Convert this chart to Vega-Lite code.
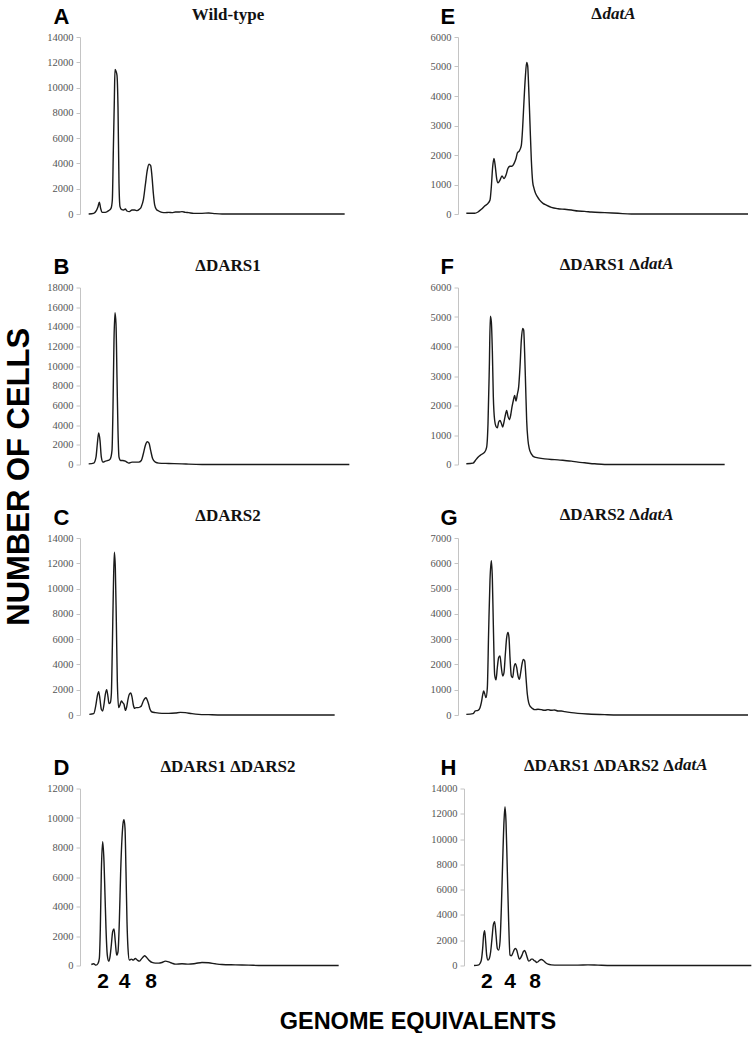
{
  "$schema": "https://vega.github.io/schema/vega-lite/v6.json",
  "padding": {"left": 3, "top": 4, "right": 0, "bottom": 0},
  "background": "white",
  "config": {
    "view": {"stroke": null},
    "concat": {"spacing": 20},
    "title": {"font": "Liberation Serif", "fontSize": 17, "fontWeight": "bold", "color": "#111111", "offset": -19},
    "axis": {"grid": false, "domainColor": "#c4c4c4", "tickColor": "#c4c4c4", "tickSize": 4, "labelFont": "Liberation Serif", "labelFontSize": 10.5, "labelColor": "#555555", "labelPadding": 3},
    "axisY": {"format": "d", "titleAngle": 0, "titleAlign": "left", "titleBaseline": "alphabetic", "titleFont": "Liberation Sans", "titleFontSize": 22, "titleFontWeight": "bold", "titleColor": "#000000"},
    "axisX": {"ticks": false, "domain": false, "labelFont": "Liberation Sans", "labelFontSize": 21, "labelFontWeight": "bold", "labelColor": "#000000", "labelPadding": 5, "titleFont": "Liberation Serif", "titleFontStyle": "italic", "titleFontWeight": "bold", "titleFontSize": 17, "titleColor": "#111111", "titleAlign": "left", "titleBaseline": "alphabetic"},
    "line": {"color": "#1a1a1a", "strokeWidth": 1.4, "interpolate": "monotone"}
  },
  "datasets": {
    "A": [{"ch":26,"n":0},{"ch":41,"n":53},{"ch":49,"n":264},{"ch":54,"n":581},{"ch":58,"n":925},{"ch":62,"n":449},{"ch":66,"n":132},{"ch":76,"n":132},{"ch":86,"n":264},{"ch":93,"n":449},{"ch":97,"n":1110},{"ch":100,"n":5020},{"ch":103,"n":8983},{"ch":105,"n":11440},{"ch":108,"n":11300},{"ch":111,"n":10970},{"ch":114,"n":8460},{"ch":117,"n":2430},{"ch":120,"n":581},{"ch":124,"n":370},{"ch":131,"n":317},{"ch":136,"n":396},{"ch":141,"n":238},{"ch":148,"n":185},{"ch":156,"n":317},{"ch":164,"n":317},{"ch":171,"n":264},{"ch":178,"n":370},{"ch":184,"n":581},{"ch":190,"n":1110},{"ch":196,"n":2300},{"ch":202,"n":3490},{"ch":207,"n":3940},{"ch":212,"n":3830},{"ch":216,"n":2960},{"ch":220,"n":1640},{"ch":224,"n":713},{"ch":229,"n":370},{"ch":236,"n":238},{"ch":246,"n":132},{"ch":256,"n":106},{"ch":266,"n":132},{"ch":276,"n":106},{"ch":286,"n":159},{"ch":296,"n":159},{"ch":306,"n":185},{"ch":316,"n":132},{"ch":326,"n":106},{"ch":341,"n":53},{"ch":366,"n":53},{"ch":386,"n":79},{"ch":406,"n":26},{"ch":426,"n":0},{"ch":466,"n":0},{"ch":566,"n":0},{"ch":666,"n":0},{"ch":794,"n":0}],
    "B": [{"ch":26,"n":68},{"ch":41,"n":136},{"ch":48,"n":749},{"ch":52,"n":2110},{"ch":56,"n":3200},{"ch":60,"n":2450},{"ch":64,"n":749},{"ch":69,"n":238},{"ch":76,"n":340},{"ch":84,"n":408},{"ch":91,"n":578},{"ch":96,"n":1430},{"ch":99,"n":5850},{"ch":102,"n":12660},{"ch":105,"n":15450},{"ch":108,"n":14290},{"ch":111,"n":8850},{"ch":114,"n":3400},{"ch":117,"n":749},{"ch":122,"n":408},{"ch":128,"n":408},{"ch":136,"n":340},{"ch":141,"n":238},{"ch":146,"n":136},{"ch":156,"n":238},{"ch":166,"n":238},{"ch":176,"n":238},{"ch":184,"n":408},{"ch":190,"n":1090},{"ch":196,"n":1940},{"ch":202,"n":2310},{"ch":207,"n":2180},{"ch":212,"n":1430},{"ch":218,"n":578},{"ch":226,"n":238},{"ch":236,"n":136},{"ch":266,"n":102},{"ch":306,"n":68},{"ch":326,"n":34},{"ch":366,"n":0},{"ch":808,"n":0}],
    "C": [{"ch":28,"n":53},{"ch":41,"n":106},{"ch":48,"n":845},{"ch":52,"n":1510},{"ch":56,"n":1850},{"ch":60,"n":1240},{"ch":64,"n":449},{"ch":68,"n":317},{"ch":72,"n":845},{"ch":76,"n":1640},{"ch":80,"n":2010},{"ch":84,"n":1430},{"ch":87,"n":898},{"ch":91,"n":977},{"ch":94,"n":1640},{"ch":97,"n":5340},{"ch":100,"n":9830},{"ch":103,"n":12870},{"ch":106,"n":11620},{"ch":109,"n":7400},{"ch":112,"n":2640},{"ch":116,"n":581},{"ch":120,"n":793},{"ch":124,"n":1110},{"ch":128,"n":977},{"ch":132,"n":845},{"ch":136,"n":370},{"ch":140,"n":634},{"ch":144,"n":1240},{"ch":148,"n":1640},{"ch":152,"n":1740},{"ch":156,"n":1430},{"ch":160,"n":793},{"ch":164,"n":528},{"ch":168,"n":581},{"ch":174,"n":581},{"ch":180,"n":634},{"ch":184,"n":713},{"ch":190,"n":1110},{"ch":194,"n":1290},{"ch":198,"n":1370},{"ch":202,"n":1160},{"ch":206,"n":845},{"ch":210,"n":449},{"ch":216,"n":238},{"ch":226,"n":185},{"ch":246,"n":132},{"ch":266,"n":132},{"ch":286,"n":159},{"ch":301,"n":211},{"ch":316,"n":185},{"ch":336,"n":106},{"ch":356,"n":53},{"ch":386,"n":26},{"ch":426,"n":0},{"ch":764,"n":0}],
    "D": [{"ch":34,"n":68},{"ch":41,"n":114},{"ch":48,"n":23},{"ch":54,"n":136},{"ch":58,"n":477},{"ch":61,"n":2520},{"ch":64,"n":6360},{"ch":68,"n":8390},{"ch":72,"n":7050},{"ch":75,"n":4770},{"ch":78,"n":2500},{"ch":82,"n":682},{"ch":86,"n":295},{"ch":90,"n":591},{"ch":94,"n":1390},{"ch":98,"n":2300},{"ch":102,"n":2480},{"ch":106,"n":1590},{"ch":110,"n":705},{"ch":114,"n":932},{"ch":118,"n":2960},{"ch":122,"n":6360},{"ch":126,"n":8640},{"ch":130,"n":9770},{"ch":132,"n":9890},{"ch":135,"n":9320},{"ch":138,"n":6360},{"ch":141,"n":2960},{"ch":144,"n":1160},{"ch":148,"n":364},{"ch":154,"n":432},{"ch":160,"n":364},{"ch":166,"n":477},{"ch":172,"n":364},{"ch":178,"n":295},{"ch":184,"n":432},{"ch":190,"n":591},{"ch":194,"n":660},{"ch":198,"n":591},{"ch":204,"n":432},{"ch":210,"n":295},{"ch":216,"n":205},{"ch":226,"n":159},{"ch":236,"n":159},{"ch":246,"n":205},{"ch":256,"n":295},{"ch":266,"n":250},{"ch":276,"n":159},{"ch":286,"n":91},{"ch":306,"n":114},{"ch":326,"n":91},{"ch":346,"n":136},{"ch":366,"n":205},{"ch":386,"n":182},{"ch":406,"n":114},{"ch":426,"n":68},{"ch":466,"n":45},{"ch":506,"n":23},{"ch":546,"n":0},{"ch":776,"n":0}],
    "E": [{"ch":25,"n":23},{"ch":50,"n":23},{"ch":60,"n":68},{"ch":70,"n":158},{"ch":80,"n":271},{"ch":90,"n":361},{"ch":96,"n":474},{"ch":100,"n":925},{"ch":104,"n":1600},{"ch":108,"n":1884},{"ch":112,"n":1600},{"ch":116,"n":1200},{"ch":120,"n":1060},{"ch":126,"n":1150},{"ch":132,"n":1290},{"ch":138,"n":1200},{"ch":144,"n":1320},{"ch":150,"n":1550},{"ch":156,"n":1620},{"ch":162,"n":1620},{"ch":168,"n":1710},{"ch":174,"n":1880},{"ch":178,"n":2070},{"ch":184,"n":2140},{"ch":190,"n":2330},{"ch":194,"n":2940},{"ch":198,"n":3840},{"ch":202,"n":4630},{"ch":206,"n":5140},{"ch":209,"n":5030},{"ch":212,"n":4300},{"ch":216,"n":3050},{"ch":220,"n":1830},{"ch":224,"n":1090},{"ch":228,"n":870},{"ch":232,"n":720},{"ch":238,"n":590},{"ch":245,"n":470},{"ch":255,"n":360},{"ch":265,"n":300},{"ch":280,"n":225},{"ch":300,"n":180},{"ch":320,"n":160},{"ch":340,"n":135},{"ch":360,"n":100},{"ch":380,"n":90},{"ch":400,"n":68},{"ch":440,"n":45},{"ch":480,"n":23},{"ch":520,"n":0},{"ch":870,"n":0}],
    "F": [{"ch":25,"n":23},{"ch":45,"n":45},{"ch":52,"n":136},{"ch":60,"n":249},{"ch":70,"n":340},{"ch":80,"n":419},{"ch":86,"n":589},{"ch":90,"n":1380},{"ch":94,"n":3310},{"ch":97,"n":5030},{"ch":100,"n":4840},{"ch":103,"n":3870},{"ch":106,"n":2290},{"ch":110,"n":1490},{"ch":114,"n":1290},{"ch":118,"n":1245},{"ch":122,"n":1440},{"ch":126,"n":1490},{"ch":130,"n":1400},{"ch":134,"n":1270},{"ch":138,"n":1440},{"ch":142,"n":1670},{"ch":146,"n":1830},{"ch":150,"n":1630},{"ch":154,"n":1520},{"ch":158,"n":1670},{"ch":162,"n":1950},{"ch":166,"n":2170},{"ch":170,"n":2340},{"ch":174,"n":2150},{"ch":178,"n":2380},{"ch":182,"n":2630},{"ch":186,"n":3310},{"ch":190,"n":4210},{"ch":194,"n":4610},{"ch":197,"n":4560},{"ch":200,"n":3760},{"ch":203,"n":2630},{"ch":206,"n":1490},{"ch":210,"n":815},{"ch":214,"n":532},{"ch":220,"n":362},{"ch":230,"n":249},{"ch":240,"n":226},{"ch":260,"n":192},{"ch":280,"n":170},{"ch":300,"n":158},{"ch":320,"n":136},{"ch":340,"n":113},{"ch":360,"n":79},{"ch":380,"n":57},{"ch":410,"n":23},{"ch":440,"n":0},{"ch":800,"n":0}],
    "G": [{"ch":25,"n":26},{"ch":45,"n":53},{"ch":52,"n":159},{"ch":60,"n":185},{"ch":66,"n":291},{"ch":70,"n":488},{"ch":74,"n":793},{"ch":77,"n":951},{"ch":80,"n":845},{"ch":84,"n":687},{"ch":88,"n":1080},{"ch":92,"n":3350},{"ch":96,"n":5340},{"ch":100,"n":6100},{"ch":103,"n":5420},{"ch":106,"n":3570},{"ch":110,"n":1590},{"ch":114,"n":1390},{"ch":118,"n":1880},{"ch":122,"n":2270},{"ch":126,"n":2340},{"ch":130,"n":1880},{"ch":134,"n":1545},{"ch":138,"n":1680},{"ch":142,"n":2400},{"ch":146,"n":3060},{"ch":150,"n":3260},{"ch":153,"n":3060},{"ch":156,"n":2270},{"ch":160,"n":1545},{"ch":164,"n":1480},{"ch":168,"n":1880},{"ch":172,"n":2030},{"ch":176,"n":1880},{"ch":180,"n":1545},{"ch":184,"n":1410},{"ch":188,"n":1680},{"ch":192,"n":2010},{"ch":196,"n":2200},{"ch":200,"n":2140},{"ch":204,"n":1480},{"ch":208,"n":819},{"ch":212,"n":489},{"ch":218,"n":317},{"ch":224,"n":251},{"ch":230,"n":211},{"ch":240,"n":225},{"ch":250,"n":211},{"ch":260,"n":185},{"ch":270,"n":211},{"ch":280,"n":185},{"ch":290,"n":198},{"ch":300,"n":159},{"ch":310,"n":159},{"ch":320,"n":132},{"ch":340,"n":92},{"ch":360,"n":66},{"ch":390,"n":40},{"ch":440,"n":13},{"ch":480,"n":0},{"ch":870,"n":0}],
    "H": [{"ch":30,"n":0},{"ch":42,"n":27},{"ch":48,"n":159},{"ch":52,"n":424},{"ch":56,"n":1350},{"ch":59,"n":2430},{"ch":62,"n":2760},{"ch":65,"n":1880},{"ch":68,"n":822},{"ch":72,"n":424},{"ch":76,"n":557},{"ch":80,"n":1090},{"ch":84,"n":2150},{"ch":88,"n":3210},{"ch":92,"n":3470},{"ch":96,"n":2430},{"ch":100,"n":1350},{"ch":104,"n":1220},{"ch":108,"n":1880},{"ch":112,"n":4510},{"ch":116,"n":8220},{"ch":120,"n":11400},{"ch":123,"n":12570},{"ch":126,"n":11400},{"ch":130,"n":7430},{"ch":134,"n":3450},{"ch":138,"n":822},{"ch":142,"n":770},{"ch":146,"n":955},{"ch":150,"n":1220},{"ch":154,"n":1350},{"ch":158,"n":1220},{"ch":162,"n":822},{"ch":166,"n":504},{"ch":170,"n":610},{"ch":174,"n":822},{"ch":178,"n":1090},{"ch":182,"n":1190},{"ch":186,"n":955},{"ch":190,"n":610},{"ch":194,"n":345},{"ch":198,"n":398},{"ch":202,"n":504},{"ch":206,"n":504},{"ch":210,"n":398},{"ch":214,"n":345},{"ch":218,"n":239},{"ch":222,"n":292},{"ch":226,"n":398},{"ch":232,"n":477},{"ch":238,"n":398},{"ch":244,"n":239},{"ch":252,"n":106},{"ch":262,"n":53},{"ch":282,"n":27},{"ch":342,"n":27},{"ch":372,"n":53},{"ch":402,"n":27},{"ch":442,"n":0},{"ch":862,"n":0}]
  },
  "title": {"text": "GENOME EQUIVALENTS", "orient": "bottom", "anchor": "middle", "font": "Liberation Sans", "fontSize": 23.5, "fontWeight": "bold", "color": "#000000", "offset": 18, "dx": 38},
  "vconcat": [
    {
      "title": {"text": "NUMBER OF CELLS", "orient": "left", "anchor": "middle", "font": "Liberation Sans", "fontSize": 31, "fontWeight": "bold", "color": "#000000", "offset": 11, "dx": 21},
      "columns": 2,
      "spacing": {"row": 34.5, "column": 77},
      "concat": [
        {
          "width": 270, "height": 177, "data": {"name": "A"},
          "title": {"text": "Wild-type", "anchor": "middle", "frame": "group", "dx": 13},
          "mark": {"type": "line"},
          "encoding": {
            "x": {"field": "ch", "type": "quantitative", "scale": {"domain": [0, 810], "nice": false}, "axis": null},
            "y": {"field": "n", "type": "quantitative", "scale": {"domain": [0, 14000], "nice": false}, "axis": {"values": [0, 2000, 4000, 6000, 8000, 10000, 12000, 14000], "title": "A", "titleX": -27, "titleY": -14}}
          }
        },
        {
          "width": 292, "height": 177, "data": {"name": "E"},
          "title": {"text": "Δ", "anchor": "end", "frame": "group", "dx": -148},
          "mark": {"type": "line"},
          "encoding": {
            "x": {"field": "ch", "type": "quantitative", "scale": {"domain": [0, 876], "nice": false}, "axis": {"labels": false, "title": "datA", "titleX": 144, "titleY": -196}},
            "y": {"field": "n", "type": "quantitative", "scale": {"domain": [0, 6000], "nice": false}, "axis": {"values": [0, 1000, 2000, 3000, 4000, 5000, 6000], "title": "E", "titleX": -18, "titleY": -14}}
          }
        },
        {
          "width": 270, "height": 177, "data": {"name": "B"},
          "title": {"text": "ΔDARS1", "anchor": "middle", "frame": "group", "dx": 13},
          "mark": {"type": "line"},
          "encoding": {
            "x": {"field": "ch", "type": "quantitative", "scale": {"domain": [0, 810], "nice": false}, "axis": null},
            "y": {"field": "n", "type": "quantitative", "scale": {"domain": [0, 18000], "nice": false}, "axis": {"values": [0, 2000, 4000, 6000, 8000, 10000, 12000, 14000, 16000, 18000], "title": "B", "titleX": -27, "titleY": -14}}
          }
        },
        {
          "width": 292, "height": 177, "data": {"name": "F"},
          "title": {"text": "ΔDARS1 Δ", "anchor": "end", "frame": "group", "dx": -110},
          "mark": {"type": "line"},
          "encoding": {
            "x": {"field": "ch", "type": "quantitative", "scale": {"domain": [0, 876], "nice": false}, "axis": {"labels": false, "title": "datA", "titleX": 182, "titleY": -196}},
            "y": {"field": "n", "type": "quantitative", "scale": {"domain": [0, 6000], "nice": false}, "axis": {"values": [0, 1000, 2000, 3000, 4000, 5000, 6000], "title": "F", "titleX": -18, "titleY": -14}}
          }
        },
        {
          "width": 270, "height": 177, "data": {"name": "C"},
          "title": {"text": "ΔDARS2", "anchor": "middle", "frame": "group", "dx": 13},
          "mark": {"type": "line"},
          "encoding": {
            "x": {"field": "ch", "type": "quantitative", "scale": {"domain": [0, 810], "nice": false}, "axis": null},
            "y": {"field": "n", "type": "quantitative", "scale": {"domain": [0, 14000], "nice": false}, "axis": {"values": [0, 2000, 4000, 6000, 8000, 10000, 12000, 14000], "title": "C", "titleX": -27, "titleY": -14}}
          }
        },
        {
          "width": 292, "height": 177, "data": {"name": "G"},
          "title": {"text": "ΔDARS2 Δ", "anchor": "end", "frame": "group", "dx": -110},
          "mark": {"type": "line"},
          "encoding": {
            "x": {"field": "ch", "type": "quantitative", "scale": {"domain": [0, 876], "nice": false}, "axis": {"labels": false, "title": "datA", "titleX": 182, "titleY": -196}},
            "y": {"field": "n", "type": "quantitative", "scale": {"domain": [0, 7000], "nice": false}, "axis": {"values": [0, 1000, 2000, 3000, 4000, 5000, 6000, 7000], "title": "G", "titleX": -18, "titleY": -14}}
          }
        },
        {
          "width": 270, "height": 177, "data": {"name": "D"},
          "title": {"text": "ΔDARS1 ΔDARS2", "anchor": "middle", "frame": "group", "dx": 13},
          "mark": {"type": "line"},
          "encoding": {
            "x": {"field": "ch", "type": "quantitative", "scale": {"domain": [0, 810], "nice": false}, "axis": {"values": [68, 132, 212], "labelExpr": "datum.value < 100 ? '2' : datum.value < 180 ? '4' : '8'", "title": null}},
            "y": {"field": "n", "type": "quantitative", "scale": {"domain": [0, 12000], "nice": false}, "axis": {"values": [0, 2000, 4000, 6000, 8000, 10000, 12000], "title": "D", "titleX": -27, "titleY": -14}}
          }
        },
        {
          "width": 298, "height": 177, "data": {"name": "H"},
          "title": {"text": "ΔDARS1 ΔDARS2 Δ", "anchor": "end", "frame": "group", "dx": -82},
          "mark": {"type": "line"},
          "encoding": {
            "x": {"field": "ch", "type": "quantitative", "scale": {"domain": [-18, 876], "nice": false}, "axis": {"values": [67, 137, 212], "labelExpr": "datum.value < 100 ? '2' : datum.value < 180 ? '4' : '8'", "title": "datA", "titleX": 216, "titleY": -196}},
            "y": {"field": "n", "type": "quantitative", "scale": {"domain": [0, 14000], "nice": false}, "axis": {"values": [0, 2000, 4000, 6000, 8000, 10000, 12000, 14000], "title": "H", "titleX": -24, "titleY": -14, "offset": -6}}
          }
        }
      ]
    }
  ]
}
